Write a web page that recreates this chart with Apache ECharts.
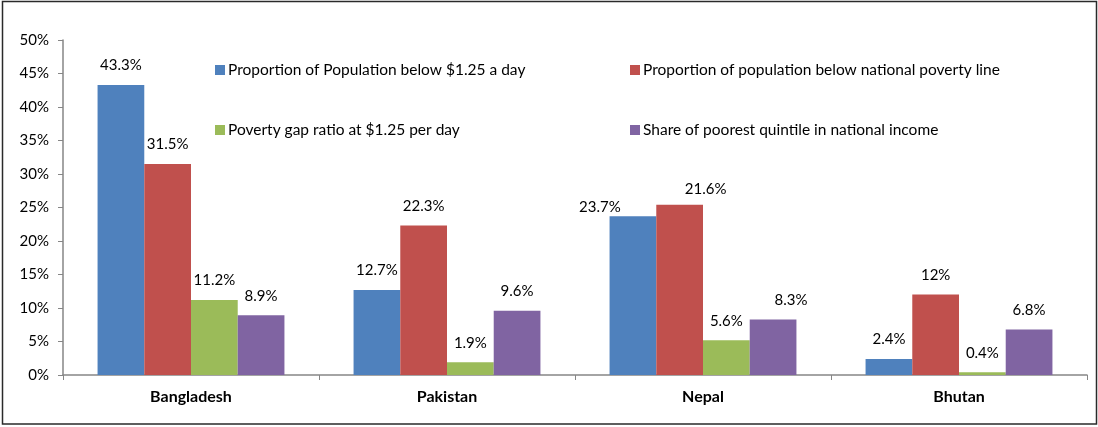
<!DOCTYPE html>
<html>
<head>
<meta charset="utf-8">
<script src="https://cdn.jsdelivr.net/npm/echarts@6/dist/echarts.min.js"></script>
<style>
html,body{margin:0;padding:0;background:#fff;}
#chart{width:1098px;height:427px;}
</style>
</head>
<body>
<div id="chart"></div>
<script>
const categories = ['Bangladesh', 'Pakistan', 'Nepal', 'Bhutan'];
const seriesNames = [
  'Proportion of Population below $1.25 a day',
  'Proportion of population below national poverty line',
  'Poverty gap ratio at $1.25 per day',
  'Share of poorest quintile in national income'
];
// bar heights (percent) as drawn
const belowDollar   = [43.3, 12.7, 23.7, 2.4];
const belowNational = [31.5, 22.3, 25.4, 12];
const povertyGap    = [11.2, 1.9, 5.2, 0.4];
const poorestShare  = [8.9, 9.6, 8.3, 6.8];
// data labels as printed
const belowDollarLabels   = ['43.3%', '12.7%', '23.7%', '2.4%'];
const belowNationalLabels = ['31.5%', '22.3%', '21.6%', '12%'];
const povertyGapLabels    = ['11.2%', '1.9%', '5.6%', '0.4%'];
const poorestShareLabels  = ['8.9%', '9.6%', '8.3%', '6.8%'];

const colors = ['#4F81BD', '#C0504D', '#9BBB59', '#8064A2'];
const values = [belowDollar, belowNational, povertyGap, poorestShare];
const labels = [belowDollarLabels, belowNationalLabels, povertyGapLabels, poorestShareLabels];
// manual label nudges seen in the reference (series-dataIndex)
const labelShift = { '0-2': [-33, 10], '1-2': [26, 4], '3-2': [18, 0] };

const FONT = 'Lato, "Open Sans", sans-serif';
const series = values.map((vals, s) => ({
  name: seriesNames[s],
  type: 'bar',
  barGap: '0%',
  barCategoryGap: '27%',
  itemStyle: { color: colors[s] },
  data: vals.map((v, i) => {
    const sh = labelShift[s + '-' + i];
    const d = { value: v };
    if (sh) d.label = { offset: sh };
    return d;
  }),
  label: {
    show: true,
    position: 'top',
    distance: 12,
    color: '#000',
    fontFamily: FONT,
    fontSize: 15,
    formatter: p => labels[s][p.dataIndex]
  }
}));

const legendPos = [[210, 57], [625, 57], [210, 117], [625, 117]];
const legends = seriesNames.map((n, i) => ({
  data: [n],
  left: legendPos[i][0],
  top: legendPos[i][1],
  orient: 'horizontal',
  icon: 'rect',
  itemWidth: 10,
  itemHeight: 10,
  itemGap: 4,
  selectedMode: false,
  textStyle: { fontFamily: FONT, fontSize: 15.5, color: '#000', padding: [0, 0, 0, -2] }
}));

const chart = echarts.init(document.getElementById('chart'), null, { renderer: 'canvas' });
chart.setOption({
  animation: false,
  color: colors,
  grid: { left: 63, right: 11, top: 40, bottom: 52, containLabel: false },
  legend: legends,
  graphic: [{
    type: 'rect',
    shape: { x: 2.5, y: 1.5, width: 1094, height: 422.5 },
    style: { fill: 'none', stroke: '#2a2a2a', lineWidth: 1.5 },
    silent: true
  }],
  xAxis: {
    type: 'category',
    data: categories,
    axisLine: { lineStyle: { color: '#868686', width: 1.5 } },
    axisTick: { show: true, interval: 0, alignWithLabel: false, length: 5, inside: false, lineStyle: { color: '#868686' } },
    axisLabel: { color: '#000', fontFamily: FONT, fontSize: 16, fontWeight: 'bold', margin: 14 }
  },
  yAxis: {
    type: 'value',
    min: 0,
    max: 50,
    interval: 5,
    axisLine: { show: true, lineStyle: { color: '#868686', width: 1.5 } },
    axisTick: { show: true, length: 5, lineStyle: { color: '#868686' } },
    splitLine: { show: false },
    axisLabel: { color: '#000', fontFamily: FONT, fontSize: 15, margin: 14, formatter: '{value}%' }
  },
  series: series
});
</script>
</body>
</html>
